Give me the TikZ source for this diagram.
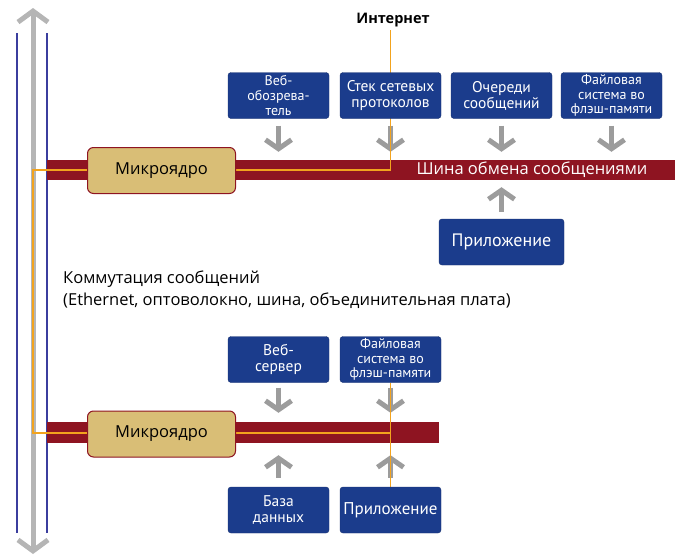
\documentclass[tikz,border=0pt]{standalone}
\usepackage{fontspec}
\setmainfont{Open Sans}
\newfontfamily\boxfont{PT Sans}
\usetikzlibrary{positioning, arrows.meta}
\usepackage{xcolor}

\definecolor{boxblue}{HTML}{1B3C8C}
\definecolor{busred}{HTML}{8E1421}
\definecolor{kerntan}{HTML}{D9BE76}
\definecolor{wireorange}{HTML}{F2A31E}
\definecolor{railblue}{HTML}{3B3E9E}
\definecolor{flowgrey}{HTML}{9C9C9C}

\pgfdeclarelayer{back}
\pgfdeclarelayer{mid}
\pgfsetlayers{back,mid,main}

\begin{document}
\begin{tikzpicture}[x=1pt, y=-1pt,
    module/.style={draw=boxblue!80!black, fill=boxblue, rounded corners=3pt, text=white,
        align=center, minimum width=101pt, minimum height=46pt, inner sep=1pt,
        font=\boxfont\fontsize{15.5}{16}\selectfont},
    small/.style={font=\boxfont\fontsize{14}{14.8}\selectfont},
    kernel/.style={draw=busred, fill=kerntan, rounded corners=6pt, line width=1pt,
        minimum width=148pt, minimum height=46pt, font=\fontsize{16.5}{16.5}\selectfont},
    bus/.style={fill=busred, minimum height=20pt, inner sep=0pt, anchor=west},
    flow/.style={flowgrey, line width=5pt, -{Straight Barb[length=9pt, width=26pt]}},
    wire/.style={wireorange, line width=1.4pt},
    rail/.style={railblue, line width=1.2pt}]
    \useasboundingbox (0,0) rectangle (681,557);

    % Switching fabric
    \coordinate (railtop) at (33,8);
    \coordinate (railbot) at (33,554);
    \begin{pgfonlayer}{back}
        \draw[rail] (17,33) -- (17,533);
        \draw[rail] (47,33) -- (47,533);
        \draw[flowgrey!75, line width=5pt,
            {Straight Barb[length=11pt, width=30pt]}-{Straight Barb[length=11pt, width=30pt]}]
            (railbot) -- (railtop);
        \node[bus, minimum width=628pt] (bus1) at (47,170) {};
        \node[bus, minimum width=392pt, minimum height=21pt] (bus2) at (47,432.5) {};
    \end{pgfonlayer}
    \node[align=left, anchor=west, inner sep=0pt,
        font=\fontsize{16.5}{22}\selectfont] (fabric) at (63,290)
        {Коммутация сообщений\\(Ethernet, оптоволокно, шина, объединительная плата)};

    % Upper node
    \node[kernel] (kern1) at (161.5,170.5) {Микроядро};
    \node[text=white, font=\fontsize{16.5}{16.5}\selectfont] (buslabel) at (532,170) {Шина обмена сообщениями};
    \node[module, small] (browser) at (278.5,95.5) {Веб-\\обозрева-\\тель};
    \node[module] (stack) at (390.5,95.5) {Стек сетевых\\протоколов};
    \node[module] (queues) at (501.5,95.5) {Очереди\\сообщений};
    \node[module, small] (flash1) at (611.5,95.5) {Файловая\\система во\\флэш-памяти};
    \node[module, minimum width=125pt, font=\boxfont\fontsize{18}{18}\selectfont] (app1) at (501.5,242) {Приложение};
    \node[font=\bfseries\fontsize{14.5}{14.5}\selectfont] (inet) at (393,20) {Интернет};

    % Lower node
    \node[kernel] (kern2) at (161.5,434) {Микроядро};
    \node[module] (websrv) at (278.5,359.5) {Веб-\\сервер};
    \node[module, small] (flash2) at (390.5,359.5) {Файловая\\система во\\флэш-памяти};
    \node[module] (db) at (278.5,510) {База\\данных};
    \node[module, font=\boxfont\fontsize{17}{17}\selectfont] (app2) at (390.5,510) {Приложение};

    \coordinate (bend1) at (33,170);
    \coordinate (bend2) at (33,433);

    \begin{pgfonlayer}{mid}
        % Arrows to the buses
        \foreach \m in {browser, stack, queues, flash1}
            \draw[flow, shorten <=7pt, shorten >=8pt] (\m) -- (\m |- bus1.north);
        \draw[flow, shorten <=7pt, shorten >=7pt] (app1) -- (app1 |- bus1.south);
        \foreach \m in {websrv, flash2}
            \draw[flow, shorten <=5pt, shorten >=9pt] (\m) -- (\m |- bus2.north);
        \foreach \m in {db, app2}
            \draw[flow, shorten <=9pt, shorten >=12pt] (\m) -- (\m |- bus2.south);
        % Wiring
        \draw[wire] (inet.south -| stack) -- (stack |- bus1) -- (bend1) -- (bend2) -- (bend2 -| flash2);
        \draw[wire] (flash2) -- (app2);
    \end{pgfonlayer}
\end{tikzpicture}
\end{document}
